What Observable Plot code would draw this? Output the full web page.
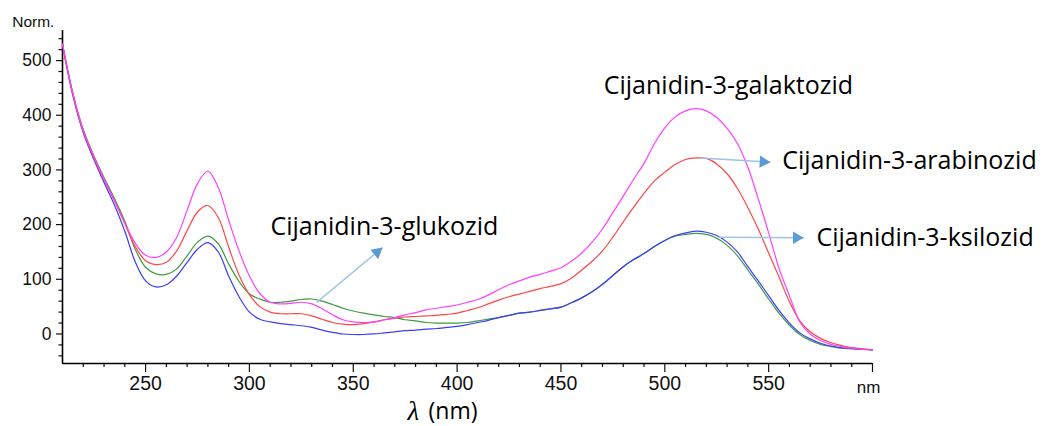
<!DOCTYPE html>
<html><head><meta charset="utf-8">
<script src="https://cdn.jsdelivr.net/npm/d3@7"></script>
<script src="https://cdn.jsdelivr.net/npm/@observablehq/plot@0.6"></script>
<style>
html,body{margin:0;padding:0;background:#fff;}
#chart svg{display:block;}
</style></head><body><div id="chart"></div>
<script>
// Wavelength (nm)
const wavelength = [210,215,220,225,230,235,240,245,250,255,260,265,270,275,280,285,290,295,300,305,310,315,320,325,330,335,340,345,350,355,360,365,370,375,380,385,390,395,400,405,410,415,420,425,430,435,440,445,450,455,460,465,470,475,480,485,490,495,500,505,510,515,520,525,530,535,540,545,550,555,560,565,570,575,580,585,590,595,600];
// Normalised absorbance
const galaktozid = [530,440,372,325,283,243,203,166,144,140,150,177,226,275,298,268,208,152,106,74,58,55,56,58,55,46,35,26,22,21,22,26,30,35,39,44,47,50,53,58,63,71,81,90,97,104,109,115,121,133,148,168,192,222,252,283,312,348,377,397,408,412,408,396,376,348,305,247,185,120,70,22,0,-12,-19,-23,-26,-28,-29];
const arabinozid = [530,438,370,323,282,244,202,160,134,127,131,152,189,223,235,213,159,108,72,50,40,37,37,37,33,27,21,18,17,19,22,26,29,31,32,33,34,36,38,43,48,55,62,68,73,78,83,87,92,102,117,133,152,177,205,232,257,280,296,310,319,322,321,311,293,266,231,192,148,104,59,24,4,-8,-16,-21,-25,-27,-29];
const glukozid = [530,440,374,327,286,248,206,155,122,110,109,119,143,168,179,165,128,96,73,64,58,58,60,63,64,60,54,47,42,38,35,32,30,26,24,21,20,20,20,21,24,27,30,34,38,40,43,46,49,57,66,77,91,107,123,136,147,160,171,179,182,184,182,175,162,143,117,91,64,38,16,-1,-12,-19,-23,-26,-27,-28,-29];
const ksilozid = [528,436,368,320,277,236,188,132,97,86,90,106,131,155,167,150,106,68,40,27,22,19,17,15,12,7,3,0,-1,-1,0,2,4,6,7,9,10,12,14,17,21,25,30,34,38,40,43,46,49,57,66,77,91,107,123,136,147,160,171,180,185,188,186,180,168,150,123,97,70,43,20,2,-9,-17,-22,-25,-27,-28,-29];

// Ticks
const xMajorTicks = [250,300,350,400,450,500,550];
const xMinorTicks = [220,230,240,260,270,280,290,310,320,330,340,360,370,380,390,410,420,430,440,460,470,480,490,510,520,530,540,560,570,580,590];
const xEndTick = [600];
const yMajorTicks = [0,100,200,300,400,500];
const yMinorTicks = [-40,-20,20,40,60,80,120,140,160,180,220,240,260,280,320,340,360,380,420,440,460,480,520,540];

// Annotations
const annoLabels = ["Cijanidin-3-galaktozid","Cijanidin-3-arabinozid","Cijanidin-3-ksilozid","Cijanidin-3-glukozid"];
const annoX = [470.6, 556.5, 573.0, 310.1];
const annoY = [452.6, 315.8, 175.5, 195.3];
const arrowX1 = [517.2, 525.9, 332.3];
const arrowY1 = [321.8, 177.0, 57.6];
const arrowX2 = [550.9, 566.9, 364.1];
const arrowY2 = [314.1, 175.9, 158.1];

const series = [
  {name: "glukozid", values: glukozid, color: "#3e9b3e"},
  {name: "ksilozid", values: ksilozid, color: "#3c3cff"},
  {name: "arabinozid", values: arabinozid, color: "#ff4646"},
  {name: "galaktozid", values: galaktozid, color: "#ff40ff"}
];

const lineMarks = series.map(s => Plot.line(wavelength, {
  x: d => d, y: (d, i) => s.values[i], stroke: s.color, strokeWidth: 1.2, curve: "catmull-rom"
}));

const idx3 = [0, 1, 2];
const headStyle = {fill: "#5b9bd5", stroke: "none", symbol: "triangle", r: 4.6};
const narrow = "'Liberation Sans Narrow', 'Arial Narrow', 'Liberation Sans', sans-serif";

const chart = Plot.plot({
  width: 1043,
  height: 426,
  marginLeft: 62,
  marginRight: 171,
  marginTop: 30,
  marginBottom: 63,
  style: {background: "white", fontFamily: "'Liberation Sans', Arial, sans-serif", color: "#111"},
  x: {domain: [210, 600]},
  y: {domain: [-54, 555]},
  marks: [
    Plot.axisY({ticks: yMinorTicks, tickSize: 3.5, tickFormat: () => "", label: null, strokeWidth: 1.2}),
    Plot.axisY({ticks: yMajorTicks, tickSize: 6, tickPadding: 5, fontSize: 17.5, label: null, strokeWidth: 1.2}),
    Plot.axisX({ticks: xMinorTicks, tickSize: 4, tickFormat: () => "", label: null, strokeWidth: 1.2}),
    Plot.axisX({ticks: xEndTick, tickSize: 9, tickFormat: () => "", label: null, strokeWidth: 1.2}),
    Plot.axisX({ticks: xMajorTicks, tickSize: 9, tickPadding: 4, fontSize: 19.5, fontFamily: narrow, label: null, strokeWidth: 1.2}),
    Plot.ruleX([210], {stroke: "#000", strokeWidth: 1.6}),
    Plot.ruleY([-54], {stroke: "#000", strokeWidth: 1.6}),
    ...lineMarks,
    Plot.link(idx3, {x1: i => arrowX1[i], y1: i => arrowY1[i], x2: i => arrowX2[i], y2: i => arrowY2[i], stroke: "#9dc3e6", strokeWidth: 1.5}),
    Plot.dot([0], {x: i => arrowX2[i], y: i => arrowY2[i], rotate: 93.4, dx: -7.2, dy: -0.4, ...headStyle}),
    Plot.dot([1], {x: i => arrowX2[i], y: i => arrowY2[i], rotate: 90, dx: -7.2, dy: 0, ...headStyle}),
    Plot.dot([2], {x: i => arrowX2[i], y: i => arrowY2[i], rotate: 50.2, dx: -5.5, dy: 4.6, ...headStyle}),
    Plot.text(annoLabels, {x: (d, i) => annoX[i], y: (d, i) => annoY[i], text: d => d, textAnchor: "start", lineAnchor: "middle", fontSize: 25, fontFamily: "'Open Sans', sans-serif", fill: "#000"}),
    Plot.text(["Norm."], {frameAnchor: "top-left", textAnchor: "start", lineAnchor: "middle", dx: -50.3, dy: -8.1, fontSize: 15.5, fill: "#111"}),
    Plot.text(["nm"], {frameAnchor: "bottom-right", textAnchor: "middle", lineAnchor: "middle", dx: -4, dy: 23.6, fontSize: 17, fontFamily: narrow, fill: "#111"}),
    Plot.text(["λ"], {frameAnchor: "bottom-left", textAnchor: "start", lineAnchor: "middle", dx: 345, dy: 47.4, fontSize: 27, fontStyle: "italic", fontFamily: "'Liberation Serif', 'DejaVu Serif', serif", fill: "#000"}),
    Plot.text(["(nm)"], {frameAnchor: "bottom-left", textAnchor: "start", lineAnchor: "middle", dx: 366, dy: 48.6, fontSize: 23, fontFamily: "'Open Sans', sans-serif", fill: "#000"})
  ]
});
document.getElementById("chart").appendChild(chart);
</script>
</body></html>
